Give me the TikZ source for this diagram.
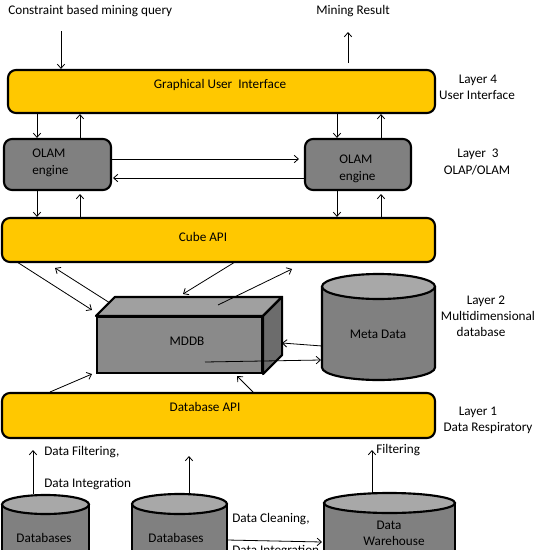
\documentclass[tikz,border=0pt]{standalone}
\usepackage{fontspec}
\setmainfont{Carlito}
\usetikzlibrary{arrows.meta,fit}
\definecolor{gold}{RGB}{255,200,0}
\definecolor{olamgray}{RGB}{128,128,128}
\definecolor{frontgray}{RGB}{138,138,138}
\definecolor{topgray}{RGB}{160,160,160}
\definecolor{sidegray}{RGB}{108,108,108}
\definecolor{cylgray}{RGB}{128,128,128}
\definecolor{cyltop}{RGB}{168,168,168}

\begin{document}
\begin{tikzpicture}[x=0.75pt,y=0.75pt,yscale=-1,xscale=1,
  font=\fontsize{9.9}{12.5}\selectfont,
  arr/.style={-{Straight Barb[length=3.2pt,width=5.6pt]}, line width=0.6pt},
  ybox/.style={draw, line width=1.6pt, rounded corners=6pt, fill=gold, inner sep=0pt},
  gbox/.style={draw, line width=1.6pt, rounded corners=6pt, fill=olamgray, inner sep=0pt},
  txt/.style={inner sep=0.75pt, text height=1.5ex, text depth=0.25ex},
  can/.style={draw, line width=1.6pt, fill=cylgray},
  cantop/.style={draw, line width=1.6pt, fill=cyltop},
]
  \useasboundingbox (0,0) rectangle (535,550);
  \clip (0,0) rectangle (535,550);

  %Shape: Rounded Rect [id:gui] 
  \node [ybox, fit={(8,70) (435,113)}] (gui) {};
  %Shape: Rounded Rect [id:olamL] 
  \node [gbox, fit={(4,139) (111,190)}] (olamL) {};
  %Shape: Rounded Rect [id:olamR] 
  \node [gbox, fit={(305,139) (411,190)}] (olamR) {};
  %Shape: Rounded Rect [id:cube] 
  \node [ybox, fit={(2,218) (435,262)}] (cube) {};
  %Shape: Rounded Rect [id:dbapi] 
  \node [ybox, fit={(2,393) (435,438)}] (dbapi) {};

  %Shape: Cube [id:mddb] 
  \node [draw, line width=1.6pt, fill=frontgray, inner sep=0pt, fit={(97,317) (262,373)}] (mddb) {};
  \path (mddb.north west) ++(19,-19) coordinate (mddbTL);
  \path (mddb.north east) ++(19,-19) coordinate (mddbTR);
  \path (mddb.south east) ++(19,-19) coordinate (mddbBR);
  \draw [line width=1.6pt, line join=round, fill=topgray] (mddb.north west) -- (mddbTL) -- (mddbTR) -- (mddb.north east) -- cycle ;
  \draw [line width=1.6pt, line join=round, fill=sidegray] (mddb.north east) -- (mddbTR) -- (mddbBR) -- (mddb.south east) -- cycle ;

  %Shape: Can [id:meta] 
  \draw [can] (322,286.5) -- (322,367.5) arc [start angle=180, end angle=0, x radius=56.5, y radius=12.5] -- (435,286.5) ;
  \draw [cantop] (378.5,286.5) ellipse [x radius=56.5, y radius=12.5] ;

  %Shape: Can [id:db1] 
  \draw [can] (2,504.5) -- (2,570) -- (89,570) -- (89,504.5) ;
  \draw [cantop] (45.5,504.5) ellipse [x radius=43.5, y radius=9.5] ;
  %Shape: Can [id:db2] 
  \draw [can] (132,504) -- (132,570) -- (227,570) -- (227,504) ;
  \draw [cantop] (179.5,504) ellipse [x radius=47.5, y radius=10] ;
  %Shape: Can [id:dw] 
  \draw [can] (324,503) -- (324,570) -- (455,570) -- (455,503) ;
  \draw [cantop] (389.5,503) ellipse [x radius=65.5, y radius=10] ;

  %Straight Lines [id:query] 
  \coordinate (qIn) at (61,31);
  \draw [arr] (qIn) -- (qIn |- gui.north) ;
  %Straight Lines [id:result] 
  \coordinate (resA) at (348,63);
  \coordinate (resB) at (348,32);
  \draw [arr] (resA) -- (resB) ;

  %Straight Lines [id:gui-olam] 
  \coordinate (vL1) at (37,0);
  \coordinate (vL2) at (80,0);
  \coordinate (vR1) at (337,0);
  \coordinate (vR2) at (381,0);
  \draw [arr] (vL1 |- gui.south) -- (vL1 |- olamL.north) ;
  \draw [arr] (vL2 |- olamL.north) -- (vL2 |- gui.south) ;
  \draw [arr] (vR1 |- gui.south) -- (vR1 |- olamR.north) ;
  \draw [arr] (vR2 |- olamR.north) -- (vR2 |- gui.south) ;
  %Straight Lines [id:olam-cube] 
  \draw [arr] (vL1 |- olamL.south) -- (vL1 |- cube.north) ;
  \draw [arr] (vL2 |- cube.north) -- (80,194) ;
  \draw [arr] (vR1 |- olamR.south) -- (vR1 |- cube.north) ;
  \draw [arr] (vR2 |- cube.north) -- (381,194) ;

  %Straight Lines [id:olam-olam] 
  \coordinate (hTop) at (299,159);
  \coordinate (hBot) at (113,178);
  \draw [arr] (hTop -| olamL.east) -- (hTop) ;
  \draw [arr] (hBot -| olamR.west) -- (hBot) ;

  %Straight Lines [id:cube-mddb] 
  \coordinate (cm1a) at (17,262);
  \coordinate (cm1b) at (92,310);
  \coordinate (cm2a) at (110,303);
  \coordinate (cm2b) at (55,268);
  \coordinate (cm3a) at (235,262);
  \coordinate (cm3b) at (183,294);
  \coordinate (cm4a) at (218,305);
  \coordinate (cm4b) at (292,269);
  \draw [arr] (cm1a) -- (cm1b) ;
  \draw [arr] (cm2a) -- (cm2b) ;
  \draw [arr] (cm3a) -- (cm3b) ;
  \draw [arr] (cm4a) -- (cm4b) ;
  %Straight Lines [id:mddb-meta] 
  \coordinate (mm1a) at (322,346);
  \coordinate (mm1b) at (282,343);
  \coordinate (mm2a) at (205,362);
  \coordinate (mm2b) at (321,360);
  \draw [arr] (mm1a) -- (mm1b) ;
  \draw [arr] (mm2a) -- (mm2b) ;
  %Straight Lines [id:dbapi-mddb] 
  \coordinate (dm1a) at (50,392);
  \coordinate (dm1b) at (92,374);
  \coordinate (dm2a) at (253,392);
  \coordinate (dm2b) at (237,376);
  \draw [arr] (dm1a) -- (dm1b) ;
  \draw [arr] (dm2a) -- (dm2b) ;

  %Straight Lines [id:sources] 
  \coordinate (s1) at (33,494);
  \coordinate (s2) at (189,494);
  \coordinate (s3) at (372,493);
  \draw [arr] (s1) -- (33,450) ;
  \draw [arr] (s2) -- (189,456) ;
  \draw [arr] (s3) -- (372,450) ;
  \coordinate (dbdwA) at (227,540);
  \coordinate (dbdwB) at (322,542);
  \draw [arr] (dbdwA) -- (dbdwB) ;

  % Text Node
  \node [txt, anchor=west] (tQuery) at (7,11) {Constraint based mining query};
  % Text Node
  \node [txt] (tResult) at (353,11) {Mining Result};
  % Text Node
  \node [txt] (tGui) at (220,85) {Graphical User\ \ Interface};
  % Text Node
  \node [txt] (tL4a) at (478,80) {Layer 4};
  % Text Node
  \node [txt] (tL4b) at (477,96) {User Interface};
  % Text Node
  \node [txt, anchor=west] (tOlamL1) at (31,154) {OLAM};
  % Text Node
  \node [txt, anchor=west] (tOlamL2) at (31,171) {engine};
  % Text Node
  \node [txt, anchor=west] (tOlamR1) at (338,160) {OLAM};
  % Text Node
  \node [txt, anchor=west] (tOlamR2) at (338,177) {engine};
  % Text Node
  \node [txt] (tL3a) at (478,154) {Layer\ \ 3};
  % Text Node
  \node [txt] (tL3b) at (477,171) {OLAP/OLAM};
  % Text Node
  \node [txt] (tCube) at (203,238) {Cube API};
  % Text Node
  \node [txt] (tMddb) at (187,342) {MDDB};
  % Text Node
  \node [txt] (tMeta) at (378,335) {Meta Data};
  % Text Node
  \node [txt] (tL2a) at (486,301) {Layer 2};
  % Text Node
  \node [txt] (tL2b) at (488,317) {Multidimensional};
  % Text Node
  \node [txt] (tL2c) at (481,333) {database};
  % Text Node
  \node [txt] (tDbapi) at (205,408) {Database\ API};
  % Text Node
  \node [txt] (tL1a) at (478,412) {Layer 1};
  % Text Node
  \node [txt] (tL1b) at (488,428) {Data\ Respiratory};
  % Text Node
  \node [txt, anchor=west] (tFilt1) at (43,452) {Data Filtering,};
  % Text Node
  \node [txt, anchor=west] (tInt1) at (43,484) {Data Integration};
  % Text Node
  \node [txt, anchor=west] (tFilt2) at (375,450) {Filtering};
  % Text Node
  \node [txt] (tDb1) at (44,539) {Databases};
  % Text Node
  \node [txt] (tDb2) at (176,539) {Databases};
  % Text Node
  \node [txt] (tDw1) at (389,526) {Data};
  % Text Node
  \node [txt] (tDw2) at (394,542) {Warehouse};
  % Text Node
  \node [txt, anchor=west] (tClean) at (231,519) {Data Cleaning,};
  % Text Node
  \node [txt, anchor=west] (tInt2) at (231,551) {Data Integration};

\end{tikzpicture}
\end{document}
